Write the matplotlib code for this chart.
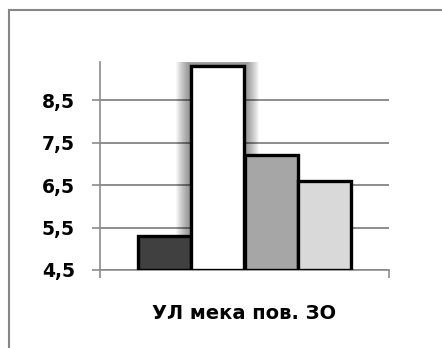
import numpy as np
import matplotlib.pyplot as plt
from matplotlib.patches import Rectangle
from matplotlib.lines import Line2D

# Series values (one category, four series)
category = "УЛ мека пов. ЗО"
values = [5.3, 9.3, 7.2, 6.6]
colors = ["#404040", "#ffffff", "#a6a6a6", "#d9d9d9"]
y_ticks = [4.5, 5.5, 6.5, 7.5, 8.5]
y_tick_labels = ["4,5", "5,5", "6,5", "7,5", "8,5"]
base = 4.5
glow_index = 1

grid_gray = "#8c8c8c"

fig = plt.figure(figsize=(4.42, 3.48), dpi=100)
ax = fig.add_axes([100 / 442, 78 / 348, 289 / 442, 208 / 348])

x = np.arange(len(values))
heights = np.array(values) - base

# soft glow around the highlighted bar
gx = x[glow_index]
for p in np.linspace(15, 1, 15):
    dx = p / 53.25
    dy = p / 42.4
    ax.add_patch(Rectangle((gx - 0.5 - dx, base), 1 + 2 * dx, heights[glow_index] + dy,
                           facecolor="black", edgecolor="none", alpha=0.035, zorder=2))

ax.bar(x, heights, bottom=base, width=1.0, color=colors, edgecolor="black",
       linewidth=2.4, zorder=3)

ax.set_xlim(-1.214, 4.214)
ax.set_ylim(4.5, 9.4)

ax.set_yticks(y_ticks)
ax.set_yticklabels(y_tick_labels, fontsize=13.5, fontweight="bold")
ax.set_xticks([-1.214, 4.214])
ax.set_xticklabels([])
ax.tick_params(axis="y", length=6, width=1.2, color=grid_gray, pad=12)
ax.tick_params(axis="x", length=5.5, width=1.2, color=grid_gray)

ax.grid(axis="y", color=grid_gray, linewidth=1.4, zorder=1)
ax.set_axisbelow(True)

for side in ["top", "right"]:
    ax.spines[side].set_visible(False)
for side in ["left", "bottom"]:
    ax.spines[side].set_color(grid_gray)
    ax.spines[side].set_linewidth(1.2)

ax.text(0.5, -0.2356, category, transform=ax.transAxes, ha="center", va="baseline",
        fontsize=14, fontweight="bold")

# outer chart frame
fy = 1 - 9.5 / 348
fx = 8.5 / 442
fig.add_artist(Line2D([fx, fx], [-0.1, fy], transform=fig.transFigure, color="#868686", linewidth=1.5))
fig.add_artist(Line2D([fx, 1.1], [fy, fy], transform=fig.transFigure, color="#868686", linewidth=1.5))

fig.savefig("out.png", dpi=100)
